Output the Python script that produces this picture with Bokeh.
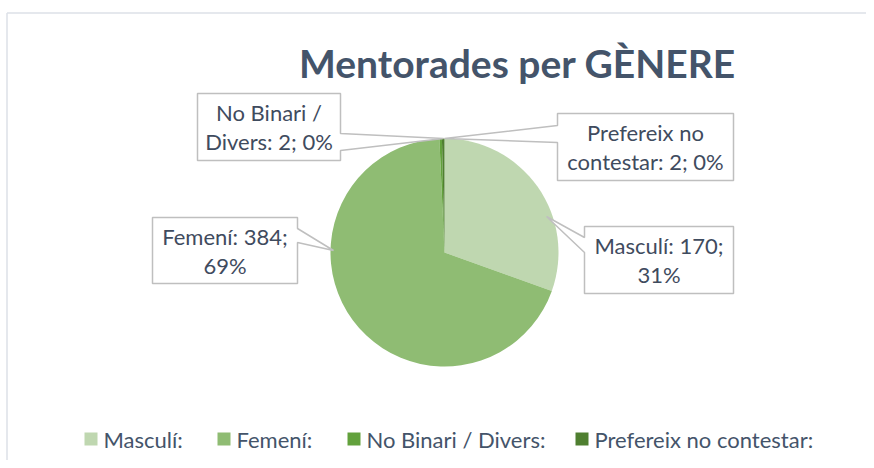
import math
from bokeh.plotting import figure
from bokeh.models import Range1d
from bokeh.embed import file_html
from bokeh.resources import INLINE
from bokeh.core.properties import value

# ---------------- data ----------------
categories = ["Masculí", "Femení", "No Binari / Divers", "Prefereix no contestar"]
counts = [170, 384, 2, 2]
colors = ["#bfd7b0", "#8fbc73", "#62a13c", "#4f7f30"]
legend_labels = ["Masculí:", "Femení:", "No Binari / Divers:", "Prefereix no contestar:"]
title_text = "Mentorades per GÈNERE"
wrap_after_words = [2, 2, 3, 2]   # where each data label breaks its line

# ---------------- layout helpers ----------------
W, H = 866, 460
OX, OY = 0, 0


def X(sx):
    return sx - OX


def Y(sy):
    return H - (sy - OY)


FONT = "Lato"
TXT = "#3f4b5e"
TITLE_C = "#44546a"

p = figure(width=W, height=H, x_range=Range1d(0, W), y_range=Range1d(0, H),
           output_backend="svg", toolbar_location=None, min_border=0,
           x_axis_type=None, y_axis_type=None)
p.grid.visible = False
p.outline_line_color = None
p.background_fill_color = "white"
p.border_fill_color = "white"

# chart area border (left + top)
p.segment(x0=[X(6.5), X(6.5)], y0=[Y(12.5), Y(12.5)], x1=[X(6.5), X(874)], y1=[Y(468), Y(12.5)],
          line_color="#dde1e7", line_width=1.5)

# ---------------- pie ----------------
total = sum(counts)
fracs = [c / total for c in counts]
cum = [0.0]
for f in fracs:
    cum.append(cum[-1] + f)
start = [math.pi / 2 - 2 * math.pi * cum[i] for i in range(len(counts))]
end = [math.pi / 2 - 2 * math.pi * cum[i + 1] for i in range(len(counts))]

cx, cy, R = X(444), Y(252), 114
p.wedge(x=cx, y=cy, radius=R, start_angle=start, end_angle=end, direction="clock",
        fill_color=colors, line_color=None)

# percentages that sum to 100 (largest remainder)
raw = [100 * c / total for c in counts]
pcts = [int(math.floor(r)) for r in raw]
rem = sorted(range(len(raw)), key=lambda i: raw[i] - pcts[i], reverse=True)
for i in rem[: 100 - sum(pcts)]:
    pcts[i] += 1

labels = [f"{c}: {v}; {pc}%" for c, v, pc in zip(categories, counts, pcts)]

# ---------------- callouts ----------------
# (x0, x1, y0, y1, side, pointer ya, pointer yb, tip x, tip y) in screen px
boxes = [
    (584, 733, 226, 293, "left", 237, 252, 546, 216),   # Masculí
    (152, 297, 217, 283, "right", 228, 242, 333, 250),  # Femení
    (197, 340, 93, 160, "right", 133, 150, 443, 138),   # No Binari
    (557, 733, 113, 180, "left", 125, 142, 444, 138),   # Prefereix
]

for (x0, x1, y0, y1, side, ya, yb, tx, ty), lab, k in zip(boxes, labels, wrap_after_words):
    if side == "right":
        pts = [(x0, y0), (x1, y0), (x1, ya), (tx, ty), (x1, yb), (x1, y1), (x0, y1)]
    else:
        pts = [(x0, y0), (x1, y0), (x1, y1), (x0, y1), (x0, yb), (tx, ty), (x0, ya)]
    p.patch([X(a) for a, b in pts], [Y(b) for a, b in pts], fill_color="white",
            line_color="#bfbfbf", line_width=1.5)
    words = lab.split(" ")
    l1, l2 = " ".join(words[:k]), " ".join(words[k:])
    xm = (x0 + x1) / 2
    ym = (y0 + y1) / 2
    p.text(x=[X(xm), X(xm)], y=[Y(ym - 14.5), Y(ym + 14.5)], text=[l1, l2],
           text_font=value(FONT), text_font_size="22px", text_color=TXT,
           text_align="center", text_baseline="middle")

# ---------------- title ----------------
p.text(x=[X(517)], y=[Y(62)], text=[title_text], text_font=value(FONT),
       text_font_size="39px", text_font_style="bold", text_color=TITLE_C,
       text_align="center", text_baseline="middle")

# ---------------- legend ----------------
sq_x = [90.5, 223.5, 353.5, 581.5]
tx_x = [103, 236, 366, 594]
ly = 438.5
p.scatter(x=[X(s) for s in sq_x], y=[Y(ly)] * 4, marker="square", size=13,
          fill_color=colors, line_color=None)
p.text(x=[X(t) for t in tx_x], y=[Y(ly)] * 4, text=legend_labels, text_font=value(FONT),
       text_font_size="22px", text_color=TITLE_C, text_align="left", text_baseline="middle")

open("out.html", "w").write(file_html(p, INLINE))
